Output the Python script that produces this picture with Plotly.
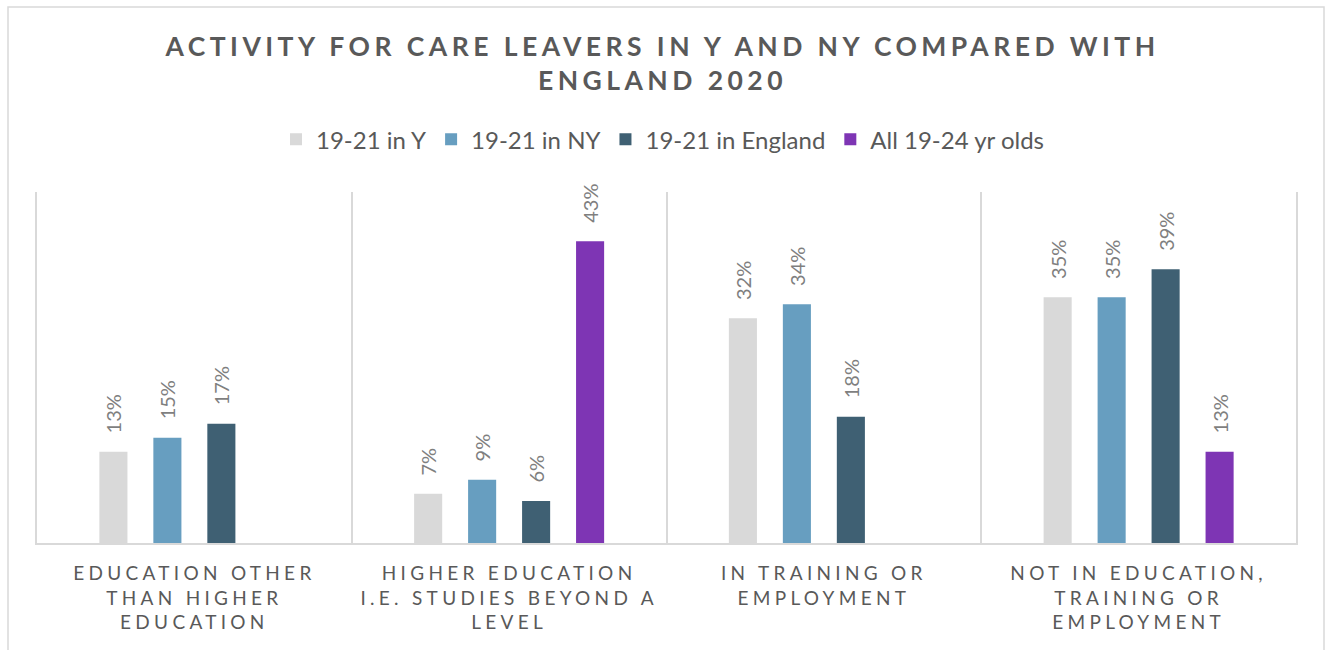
import plotly.graph_objects as go

categories = [
    "EDUCATION OTHER<br>THAN HIGHER<br>EDUCATION",
    "HIGHER EDUCATION<br>I.E. STUDIES BEYOND A<br>LEVEL",
    "IN TRAINING OR<br>EMPLOYMENT",
    "NOT IN EDUCATION,<br>TRAINING OR<br>EMPLOYMENT",
]
series_names = ["19-21 in Y", "19-21 in NY", "19-21 in England", "All 19-24 yr olds"]
y_vals = [13, 7, 32, 35]
ny_vals = [15, 9, 34, 35]
england_vals = [17, 6, 18, 39]
all_vals = [None, 43, None, 13]
colors = ["#D9D9D9", "#679EC0", "#3F6073", "#7E35B4"]

GREY = "#595959"
FONT = "Lato"


def spaced(label, px):
    return "<br>".join(
        f"<span style='letter-spacing:{px}px'>{line}</span>" for line in label.split("<br>")
    )


tick_text = [spaced(c, 4.3) for c in categories]

fig = go.Figure()
for name, vals, col in zip(series_names, [y_vals, ny_vals, england_vals, all_vals], colors):
    fig.add_trace(go.Bar(
        name=name,
        x=categories,
        y=vals,
        marker=dict(color=col, line=dict(width=0)),
        text=[("\u00a0\u00a0\u00a0" + f"{v}%") if v is not None else "" for v in vals],
        textposition="outside",
        textangle=-90,
        textfont=dict(family=FONT, size=20, color="#7F7F7F"),
        constraintext="none",
        cliponaxis=False,
        hoverinfo="skip",
    ))

title_lines = ["ACTIVITY FOR CARE LEAVERS IN Y AND NY COMPARED WITH", "ENGLAND 2020"]

fig.update_layout(
    width=1325,
    height=650,
    margin=dict(l=37, r=29, t=192, b=107),
    paper_bgcolor="white",
    plot_bgcolor="white",
    barmode="group",
    bargap=0.314,
    bargroupgap=0.48,
    title=dict(
        text="<b>" + spaced("<br>".join(title_lines), 4.45) + "</b>",
        x=0.5,
        xref="container",
        xanchor="center",
        y=0.914,
        yref="container",
        yanchor="top",
        font=dict(family=FONT, size=26.5, color=GREY),
    ),
    legend=dict(
        orientation="h",
        x=0.5,
        xref="container",
        xanchor="center",
        y=0.785,
        yref="container",
        yanchor="middle",
        font=dict(family=FONT, size=24, color=GREY),
        traceorder="normal",
        itemclick=False,
    ),
    xaxis=dict(
        type="category",
        tickmode="array",
        tickvals=categories,
        ticktext=tick_text,
        tickson="boundaries",
        showgrid=True,
        gridcolor="#D9D9D9",
        gridwidth=2,
        showline=True,
        linecolor="#D9D9D9",
        linewidth=2,
        ticks="",
        ticklabelstandoff=12,
        tickfont=dict(family=FONT, size=19, color=GREY),
        zeroline=False,
    ),
    yaxis=dict(
        range=[0, 50],
        showticklabels=False,
        showgrid=False,
        zeroline=False,
        showline=True,
        mirror=True,
        linecolor="#D9D9D9",
        linewidth=2,
        ticks="",
    ),
    shapes=[
        dict(
            type="rect",
            xref="paper", yref="paper",
            x0=(8 - 37) / 1259, x1=(1324 - 37) / 1259,
            y0=(543 - 660) / 351, y1=(543 - 7) / 351,
            line=dict(color="#D9D9D9", width=1.5),
            fillcolor="rgba(0,0,0,0)",
            layer="below",
        )
    ],
)

fig.write_html("out.html")
